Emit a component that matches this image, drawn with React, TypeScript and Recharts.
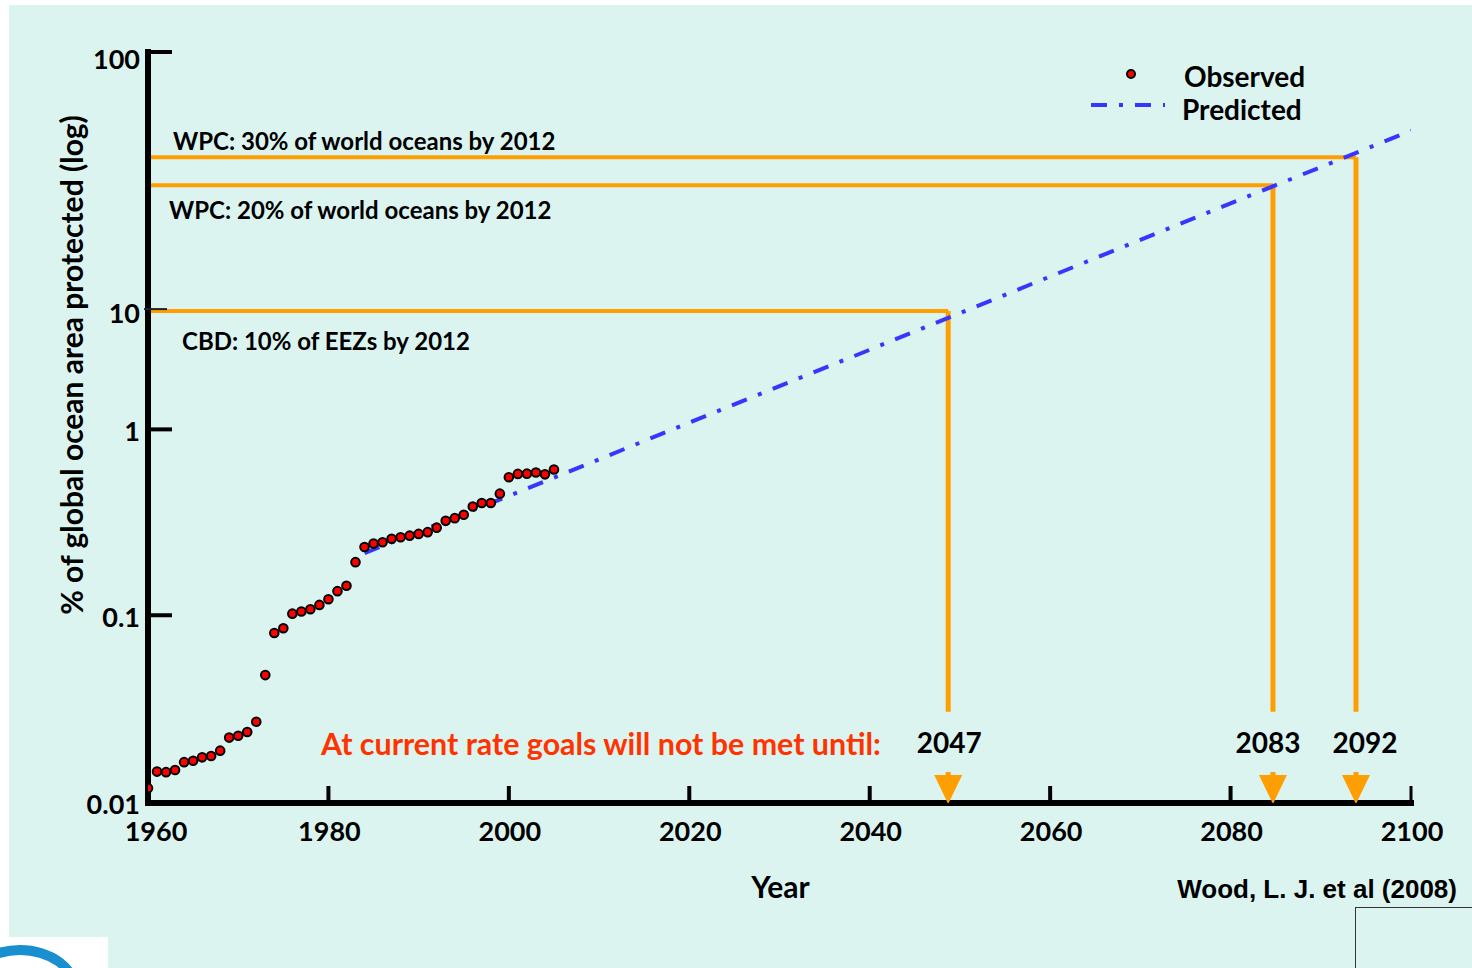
import React from 'react';
import { ComposedChart, XAxis, YAxis, Scatter, Line, ReferenceLine, Label } from 'recharts';

// observed protected area (% of global ocean), one point per year
const OBS_YEARS = [
  1960, 1961, 1962, 1963, 1964, 1965, 1966, 1967, 1968, 1969,
  1970, 1971, 1972, 1973, 1974, 1975, 1976, 1977, 1978, 1979,
  1980, 1981, 1982, 1983, 1984, 1985, 1986, 1987, 1988, 1989,
  1990, 1991, 1992, 1993, 1994, 1995, 1996, 1997, 1998, 1999,
  2000, 2001, 2002, 2003, 2004, 2005,
];
const OBS_PCT = [
  0.012, 0.0147, 0.0146, 0.015, 0.0165, 0.0168, 0.0175, 0.0178, 0.019, 0.0223,
  0.0228, 0.0239, 0.0271, 0.048, 0.0805, 0.0853, 0.102, 0.1047, 0.1078, 0.1137,
  0.122, 0.1348, 0.144, 0.193, 0.233, 0.243, 0.247, 0.258, 0.263, 0.268,
  0.274, 0.28, 0.296, 0.322, 0.333, 0.347, 0.385, 0.402, 0.402, 0.451,
  0.553, 0.576, 0.578, 0.586, 0.573, 0.608,
];

// predicted trend
const PRED_YEARS = [1984, 2000, 2020, 2040, 2060, 2080, 2100];
const PRED_PCT = [0.216, 0.438, 1.14, 4.71, 12.1, 18.1, 40.6];

// targets
const GOAL_PCT = [10, 20, 30];
const GOAL_TEXT = ['CBD: 10% of EEZs by 2012', 'WPC: 20% of world oceans by 2012', 'WPC: 30% of world oceans by 2012'];
const GOAL_REACHED_AT = [2048.7, 2084.7, 2093.9];
const GOAL_YEAR_LABELS = ['2047', '2083', '2092'];
const DROP_END_PCT = 0.0306;

// axis: the figure's log axis is unevenly spaced, so it is defined by anchor values
const AXIS_VALUES = [0.01, 0.1, 1, 10, 20, 30, 100];
const AXIS_POS = [0, 1, 1.99, 2.62, 3.29, 3.44, 4];
const Y_TICKS = [0.01, 0.1, 1, 10, 100];
const Y_TICK_LABELS = ['0.01', '0.1', '1', '10', '100'];
const X_TICKS = [1960, 1980, 2000, 2020, 2040, 2060, 2080, 2100];

const BG = '#dcf4f0';
const ORANGE = '#ff9e00';
const BLUE = '#3636ff';
const FONT = 'Lato, "Open Sans", sans-serif';

function toPos(v: number) {
  const lv = Math.log10(v);
  const n = AXIS_VALUES.length;
  for (let i = 0; i < n - 1; i++) {
    const a = Math.log10(AXIS_VALUES[i]);
    const b = Math.log10(AXIS_VALUES[i + 1]);
    if (lv <= b || i === n - 2) {
      return AXIS_POS[i] + ((lv - a) / (b - a)) * (AXIS_POS[i + 1] - AXIS_POS[i]);
    }
  }
  return 0;
}

const observed = OBS_YEARS.map((year, i) => ({ year, pos: toPos(OBS_PCT[i]) }));
const predicted = PRED_YEARS.map((year, i) => ({ year, pos: toPos(PRED_PCT[i]) }));
const markers = GOAL_REACHED_AT.map((year, i) => ({ year, pos: toPos(0.01), label: GOAL_YEAR_LABELS[i], idx: i }));

const GOAL_LABEL_OFFSET = [
  { dx: 34, dy: 31 },
  { dx: 21, dy: 25 },
  { dx: 25, dy: -16 },
];
const MARKER_LABEL_DX = [1, -5, 9];

const YTick = ({ x, y, payload }: any) => {
  const i = Y_TICKS.findIndex((t) => Math.abs(toPos(t) - payload.value) < 1e-6);
  return (
    <g>
      {i > 0 && i !== 3 && <line x1={x + 8} x2={x + 32} y1={y} y2={y} stroke="#000" strokeWidth={4} />}
      {i === 3 && <line x1={x + 4} x2={x + 27} y1={y - 2} y2={y - 2} stroke="#222" strokeWidth={2} />}
      <text x={x} y={y + (i === 4 ? 8 : 2)} dy="0.35em" textAnchor="end" fontFamily={FONT} fontWeight={700} fontSize={27} fill="#000">
        {Y_TICK_LABELS[i]}
      </text>
    </g>
  );
};

const XTick = ({ x, y, payload }: any) => (
  <g>
    {payload.value !== 1960 && (
      <line x1={x} x2={x} y1={y - 8} y2={y - 25} stroke="#000" strokeWidth={payload.value === 2100 ? 3 : 4} />
    )}
    <text x={x + (payload.value === 1960 ? 8 : 1)} y={y + 21} dy="0.35em" textAnchor="middle" fontFamily={FONT} fontWeight={700} fontSize={27} fill="#000">
      {payload.value}
    </text>
  </g>
);

const GoalMarker = (p: any) => (
  <g>
    <line x1={p.cx} x2={p.cx} y1={p.cy - 31} y2={p.cy - 26} stroke={ORANGE} strokeWidth={5} />
    <polygon points={`${p.cx - 14},${p.cy - 28} ${p.cx + 14},${p.cy - 28} ${p.cx},${p.cy + 1}`} fill={ORANGE} />
    <text x={p.cx + MARKER_LABEL_DX[p.payload.idx]} y={p.cy - 60} dy="0.35em" textAnchor="middle" fontFamily={FONT} fontWeight={700} fontSize={28} fill="#000">
      {p.payload.label}
    </text>
  </g>
);

const Dot = (p: any) => <circle cx={p.cx} cy={p.cy} r={4.3} fill="#ff0000" stroke="#000" strokeWidth={2} />;

export default function App() {
  return (
    <div style={{ position: 'absolute', left: 0, top: 0, width: 1472, height: 968, background: '#fff', overflow: 'hidden' }}>
      <div style={{ position: 'absolute', left: 9, top: 5, right: 0, bottom: 0, background: BG }} />
      <div style={{ position: 'absolute', left: 0, top: 937, width: 108, height: 31, background: '#fff', overflow: 'hidden' }}>
        <div style={{ position: 'absolute', left: -40, top: 8, width: 120, height: 90, borderRadius: '50%', border: '10px solid #1a8fd0', boxSizing: 'border-box' }} />
      </div>
      <div style={{ position: 'absolute', left: 1355, top: 907, width: 130, height: 80, border: '1px solid #333' }} />

      <div style={{ position: 'absolute', left: 0, top: 0 }}>
        <ComposedChart width={1472} height={968} margin={{ top: 52, right: 61, bottom: 105, left: 0 }}>
          <XAxis
            dataKey="year"
            type="number"
            domain={[1960, 2100]}
            ticks={X_TICKS}
            allowDataOverflow
            height={60}
            tickSize={0}
            tickMargin={8}
            tickLine={false}
            tick={<XTick />}
            axisLine={{ stroke: '#000', strokeWidth: 6, strokeLinecap: 'square' }}
          >
            <Label
              content={({ viewBox }: any) => (
                <text x={viewBox.x + viewBox.width / 2 + 1} y={887} dy="0.35em" textAnchor="middle" fontFamily={FONT} fontWeight={700} fontSize={30} fill="#000">
                  Year
                </text>
              )}
            />
          </XAxis>
          <YAxis
            dataKey="pos"
            type="number"
            domain={[0, 4]}
            ticks={Y_TICKS.map(toPos)}
            allowDataOverflow
            width={148}
            tickSize={0}
            tickMargin={8}
            tickLine={false}
            tick={<YTick />}
            axisLine={{ stroke: '#000', strokeWidth: 6, strokeLinecap: 'square' }}
          >
            <Label
              content={() => (
                <text x={72} y={365} transform="rotate(-90 72 365)" dy="0.35em" textAnchor="middle" fontFamily={FONT} fontWeight={700} fontSize={30} fill="#000">
                  % of global ocean area protected (log)
                </text>
              )}
            />
          </YAxis>

          {GOAL_PCT.map((g, i) => (
            <ReferenceLine
              key={'h' + g}
              segment={[{ x: 1960, y: toPos(g) }, { x: GOAL_REACHED_AT[i], y: toPos(g) }]}
              stroke={ORANGE}
              strokeWidth={4}
            >
              <Label
                content={({ viewBox }: any) => (
                  <text
                    x={viewBox.x + GOAL_LABEL_OFFSET[i].dx}
                    y={viewBox.y + GOAL_LABEL_OFFSET[i].dy}
                    dy="0.35em"
                    fontFamily={FONT}
                    fontWeight={700}
                    fontSize={24}
                    fill="#000"
                  >
                    {GOAL_TEXT[i]}
                  </text>
                )}
              />
            </ReferenceLine>
          ))}
          {GOAL_PCT.map((g, i) => (
            <ReferenceLine
              key={'v' + g}
              segment={[{ x: GOAL_REACHED_AT[i], y: toPos(g) }, { x: GOAL_REACHED_AT[i], y: toPos(DROP_END_PCT) }]}
              stroke={ORANGE}
              strokeWidth={5}
            />
          ))}

          <Line
            data={predicted}
            dataKey="pos"
            stroke={BLUE}
            strokeWidth={4}
            strokeDasharray="16 12 4 12"
            dot={false}
            activeDot={false}
            isAnimationActive={false}
          />
          <Scatter data={observed} dataKey="pos" shape={<Dot />} isAnimationActive={false} />
          <Scatter data={markers} dataKey="pos" shape={<GoalMarker />} isAnimationActive={false} />
        </ComposedChart>
      </div>

      {/* legend */}
      <div style={{ position: 'absolute', left: 1085, top: 60, width: 240, height: 64 }}>
        <svg width={90} height={64} style={{ position: 'absolute', left: 0, top: 0 }}>
          <circle cx={46} cy={14} r={4} fill="#ff0000" stroke="#000" strokeWidth={2} />
          <line x1={6} x2={80} y1={45} y2={45} stroke={BLUE} strokeWidth={4} strokeDasharray="16 12 4 12" />
        </svg>
        <div style={{ position: 'absolute', left: 99, top: 16, transform: 'translateY(-50%)', font: `700 28px ${FONT}`, lineHeight: 1, whiteSpace: 'nowrap' }}>
          Observed
        </div>
        <div style={{ position: 'absolute', left: 97, top: 49, transform: 'translateY(-50%)', font: `700 28px ${FONT}`, lineHeight: 1, whiteSpace: 'nowrap' }}>
          Predicted
        </div>
      </div>

      <div style={{ position: 'absolute', left: 321, top: 743, transform: 'translateY(-50%)', font: `700 30.4px ${FONT}`, lineHeight: 1, color: '#ff3300', whiteSpace: 'nowrap' }}>
        At current rate goals will not be met until:
      </div>
      <div style={{ position: 'absolute', right: 15, top: 889, transform: 'translateY(-50%)', font: '700 26px "Liberation Sans", Arial, sans-serif', lineHeight: 1, whiteSpace: 'nowrap' }}>
        Wood, L. J. et al (2008)
      </div>
    </div>
  );
}
